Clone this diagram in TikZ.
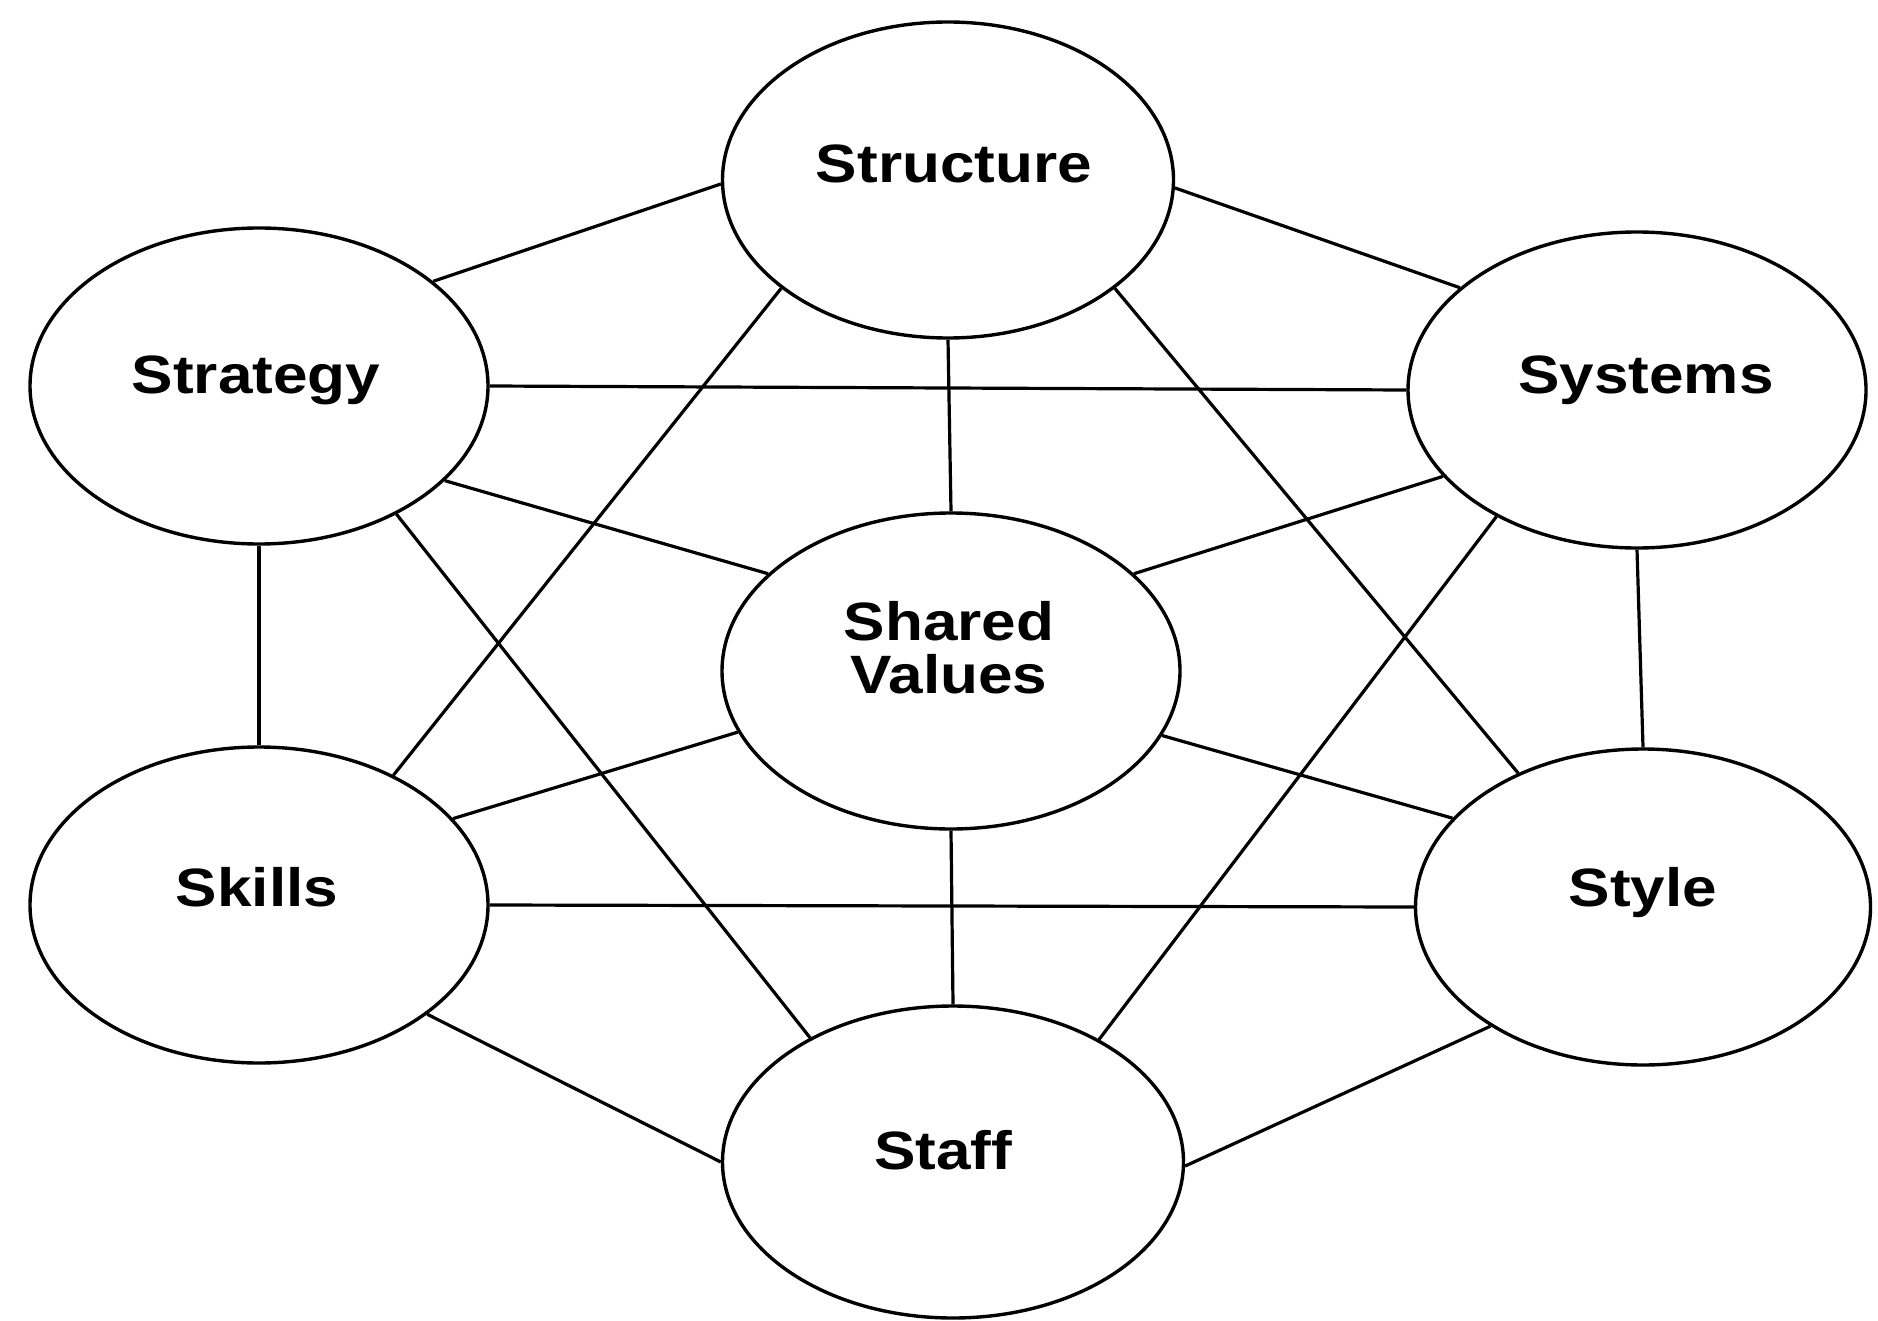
\documentclass[tikz,border=0pt]{standalone}
\usepackage{fontspec}
\setmainfont{Liberation Sans}
\usetikzlibrary{shapes.geometric}
\begin{document}
\begin{tikzpicture}[x=1pt,y=-1pt,
  ell/.style={ellipse, draw=black, line width=3.4pt, inner sep=0pt,
    minimum width=458pt, minimum height=316pt},
  lab/.style={anchor=base, inner sep=0pt, align=center,
    font=\fontsize{54}{53}\selectfont\bfseries, xscale=1.15, transform shape},
  con/.style={draw=black, line width=3.2pt}]
\useasboundingbox (0,0) rectangle (1878,1321);
\fill[white] (0,0) rectangle (1878,1321);
% ellipses
\node[ell, minimum width=451pt] (structure) at (948,180) {};
\node[ell] (strategy) at (259,386) {};
\node[ell] (systems) at (1637,390) {};
\node[ell] (shared) at (951,671) {};
\node[ell] (skills) at (259,905) {};
\node[ell, minimum width=455pt] (style) at (1643,907) {};
\node[ell, minimum width=461pt, minimum height=312pt] (staff) at (953,1162) {};
% labels
\node[lab] (tstructure) at (954,183) {Structure};
\node[lab] (tstrategy) at (256,393) {Strategy};
\node[lab] (tsystems) at (1646,393) {Systems};
\node[lab] (tshared) at (949,693) {Shared\\Values};
\node[lab] (tskills) at (257,906) {Skills};
\node[lab] (tstyle) at (1643,906) {Style};
\node[lab] (tstaff) at (943,1169) {Staff};
% connectors
\draw[con] (structure.181.5) -- (strategy.31.4);
\draw[con] (structure.358.5) -- (systems.150.3);
\draw[con] (strategy.east) -- (systems.west);
\draw[con] (structure.south) -- (shared.north);
\draw[con] (structure.213.4) -- (skills.44);
\draw[con] (structure.327.3) -- (style.133.7);
\draw[con] (strategy.333.4) -- (shared.152.2);
\draw[con] (systems.204.8) -- (shared.28);
\draw[con] (strategy.south) -- (skills.north);
\draw[con] (systems.south) -- (style.north);
\draw[con] (strategy.317.3) -- (staff.139.6);
\draw[con] (systems.222.2) -- (staff.40.8);
\draw[con] (shared.196) -- (skills.24.2);
\draw[con] (shared.343.1) -- (style.155.5);
\draw[con] (skills.east) -- (style.west);
\draw[con] (shared.south) -- (staff.north);
\draw[con] (skills.327.1) -- (staff.180);
\draw[con] (style.218.5) -- (staff.359.4);
\end{tikzpicture}
\end{document}
